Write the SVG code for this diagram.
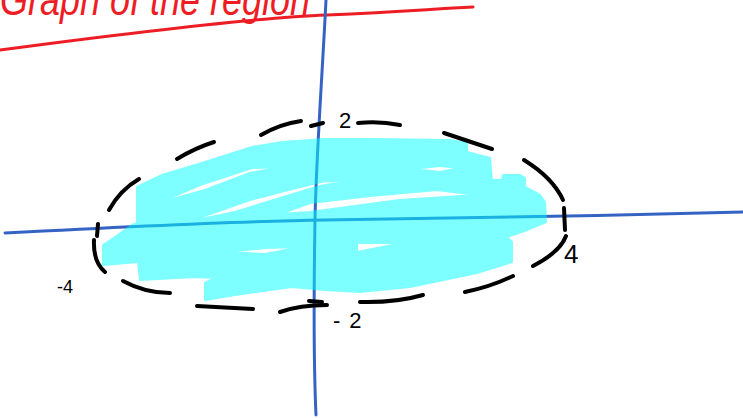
<svg xmlns="http://www.w3.org/2000/svg" width="743" height="418" viewBox="0 0 743 418">
<style>
.axis{fill:none;stroke:#3563C4;stroke-width:3;stroke-linecap:round}
.dash{fill:none;stroke:#000;stroke-width:4;stroke-linecap:round;stroke-linejoin:round}
.lbl{font-family:"Liberation Sans",Arial,sans-serif;fill:#000}
.hl{fill:#00FFFF;stroke:#00FFFF;stroke-width:2;stroke-linejoin:round;fill-rule:evenodd}
</style>
<rect width="743" height="418" fill="#fff"/>
<g id="title">
<text x="0" y="15" font-family="Liberation Sans,Arial,sans-serif" font-style="italic" font-size="44" fill="#EE1D25" textLength="310" lengthAdjust="spacingAndGlyphs">Graph of the region</text>
<path d="M0,50 C120,34 250,18 327,15 S430,9 473,7" fill="none" stroke="#EE1D25" stroke-width="3" stroke-linecap="round"/>
</g>
<g id="axes">
<path class="axis" d="M5,233 C100,228 250,221 325,220 S600,216 743,212"/>
<path class="axis" d="M326,0 C322,80 316,160 315,220 S313,350 316,415"/>
</g>
<g id="region" opacity="0.5">
<path class="hl" d="M137,187 L162,175 L205,162 L252,147 L282,142 L325,139 L370,139 L450,140 L467,143 L467,152 L490,158 L492,180 L502,180 L503,175 L520,175 L525,178 L525,187 L540,195 L545,202 L546,222 L527,230 L507,237 L512,242 L512,262 L477,273 L410,287 L360,292 L325,290 L292,287 L235,295 L205,300 L205,283 L215,278 L195,277 L140,280 L138,262 L103,265 L103,245 L115,237 L132,225 L137,223 Z
M158,203 L200,185 L252,168 L282,167 L250,173 L205,190 Z
M187,222 L250,200 L300,187 L325,181 L342,182 L320,186 L280,198 L235,212 Z
M280,214 L310,203 L370,196 L437,190 L477,195 L400,200 L340,208 L310,212 Z
M412,169 L440,166 L460,168 L440,172 Z
M227,252 L265,248 L302,247 L265,254 Z
M357,243 L403,243 L357,252 Z"/>
</g>
<g id="boundary">
<path class="dash" d="M109,210 Q120,190 139,179"/>
<path class="dash" d="M177,159 Q195,148 214,142"/>
<path class="dash" d="M261,135 Q280,124 301,121"/>
<path class="dash" d="M311,126 L323,123"/>
<path class="dash" d="M358,123 Q380,121 400,125"/>
<path class="dash" d="M444,133 L492,149"/>
<path class="dash" d="M524,160 Q553,178 563,200"/>
<path class="dash" d="M564,208 L565,230"/>
<path class="dash" d="M566,236 Q560,252 533,266"/>
<path class="dash" d="M513,276 Q490,287 465,292"/>
<path class="dash" d="M423,295 Q395,303 360,302"/>
<path class="dash" d="M280,312 Q300,305 327,305"/>
<path class="dash" d="M309,301 L322,302"/>
<path class="dash" d="M197,306 L253,309"/>
<path class="dash" d="M123,281 Q145,293 170,293"/>
<path class="dash" d="M98,224 L97,236"/>
<path class="dash" d="M94,240 Q93,262 105,272"/>
</g>
<g id="labels">
<text class="lbl" x="339" y="128" font-size="22">2</text>
<text class="lbl" x="333" y="328" font-size="22">-<tspan dx="9">2</tspan></text>
<text class="lbl" x="57" y="293" font-size="18">-4</text>
<text class="lbl" x="564" y="263" font-size="26">4</text>
</g>
</svg>
